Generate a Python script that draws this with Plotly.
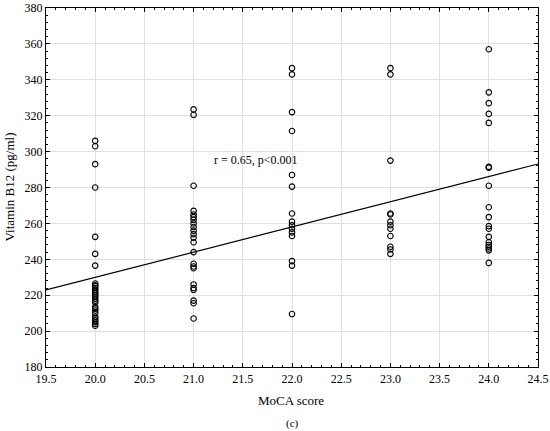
import plotly.graph_objects as go

# MoCA score vs Vitamin B12 (panel c)
moca_20 = [306, 303, 293, 280, 252.5, 243, 236.5,
           226.5, 225.5, 225, 224, 223, 222, 221, 220, 219, 218, 217, 216,
           213.5, 212.5, 211.5, 210, 208, 207, 206, 205, 204, 203]
moca_21 = [323.5, 320.5, 281, 267, 265, 263.5, 262, 260, 258, 256, 254, 252, 249.5,
           244, 237.5, 236, 235, 226, 224, 223, 217, 215.5, 207]
moca_22 = [346.5, 343, 322, 311.5, 287, 280.5, 265.5, 261, 259, 257, 255, 253,
           239, 236.5, 209.5]
moca_23 = [346.5, 343, 295, 265.5, 265, 261, 259, 257, 253, 247, 245.5, 243]
moca_24 = [357, 333, 327, 321, 316, 291.5, 291, 281, 269, 263.5, 258.5, 257,
           252.5, 249.5, 248, 247, 246, 245, 238]

groups = {20: moca_20, 21: moca_21, 22: moca_22, 23: moca_23, 24: moca_24}

x_vals = []
y_vals = []
for score, vals in groups.items():
    x_vals += [score] * len(vals)
    y_vals += vals

# regression line
fit_x = [19.5, 24.5]
fit_y = [222.9, 293.1]

x_ticks = [19.5, 20.0, 20.5, 21.0, 21.5, 22.0, 22.5, 23.0, 23.5, 24.0, 24.5]
y_ticks = [180, 200, 220, 240, 260, 280, 300, 320, 340, 360, 380]

font = "Liberation Serif"

fig = go.Figure()

fig.add_trace(go.Scatter(
    x=fit_x, y=fit_y, mode="lines",
    line=dict(color="black", width=1.2),
    hoverinfo="skip", showlegend=False))

fig.add_trace(go.Scatter(
    x=x_vals, y=y_vals, mode="markers",
    marker=dict(symbol="circle-open", size=5.5, color="black",
                line=dict(width=1.1, color="black")),
    showlegend=False))

fig.add_annotation(
    x=21.63, y=295.3, text="r = 0.65, p<0.001", showarrow=False,
    font=dict(family=font, size=12, color="black"))

axis_common = dict(
    showgrid=True, gridcolor="#e0e0e0", gridwidth=1,
    showline=True, linecolor="black", linewidth=1.2, mirror="allticks",
    ticks="inside", ticklen=4, tickcolor="black",
    zeroline=False, automargin=False,
    tickfont=dict(family=font, size=12, color="black"),
)

fig.update_xaxes(
    range=[19.5, 24.5], tickvals=x_ticks,
    ticktext=[f"{v:.1f}" for v in x_ticks],
    minor=dict(dtick=0.1, ticks="inside", ticklen=2, tickcolor="black", showgrid=False),
    **axis_common)

fig.update_yaxes(
    range=[180, 380], tickvals=y_ticks,
    minor=dict(dtick=4, ticks="inside", ticklen=2, tickcolor="black", showgrid=False),
    **axis_common)

# axis titles and caption
fig.add_annotation(
    text="MoCA score", xref="paper", yref="paper", x=0.498, y=-0.094,
    showarrow=False, yanchor="middle",
    font=dict(family=font, size=13, color="black"))
fig.add_annotation(
    text="Vitamin B12 (pg/ml)", xref="paper", yref="paper", x=-0.0752, y=0.5,
    showarrow=False, textangle=-90, xanchor="center", yanchor="middle",
    font=dict(family=font, size=13, color="black"))
fig.add_annotation(
    text="(c)", xref="paper", yref="paper", x=0.5, y=-0.157,
    showarrow=False, yanchor="middle",
    font=dict(family=font, size=11, color="black"))

fig.update_layout(
    width=550, height=431,
    margin=dict(l=46, r=12, t=8, b=64),
    plot_bgcolor="white", paper_bgcolor="white",
)

# drop the default page margin so the figure sits at the window corner
fig.write_html("out.html", config={"displayModeBar": False},
               post_script="document.body.style.margin='0';")
